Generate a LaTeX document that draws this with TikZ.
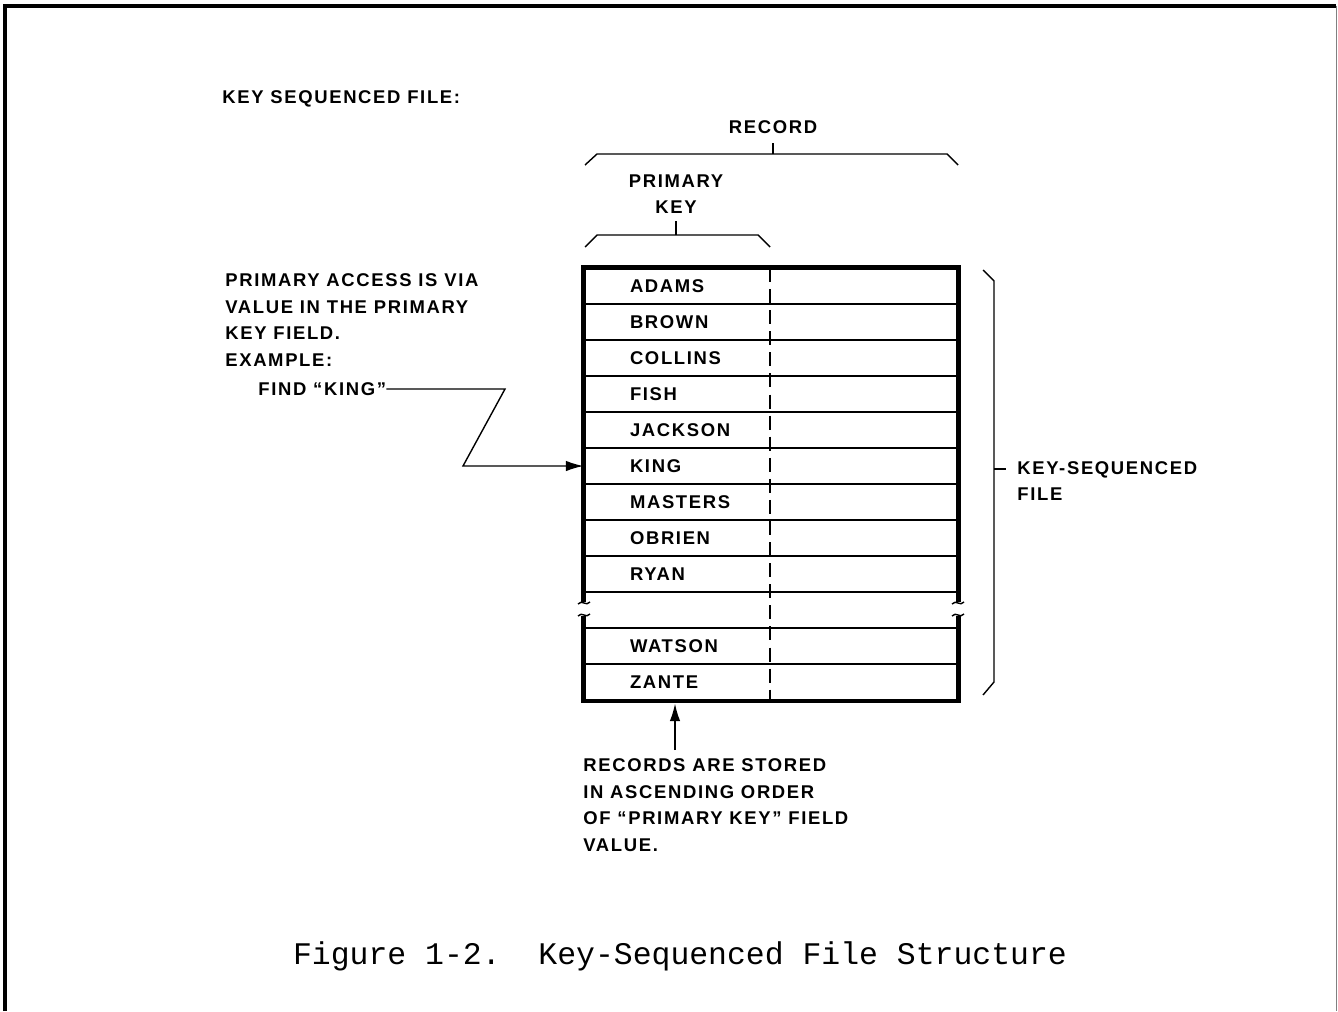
\documentclass[tikz,border=0pt]{standalone}
\usepackage{fontspec}
\newfontfamily\lblfont[LetterSpace=9]{Liberation Sans}
\newfontfamily\capfont{Liberation Mono}
\usetikzlibrary{calc,arrows.meta}
\tikzset{
  lbl/.style={font=\lblfont\bfseries\fontsize{10.5}{15.1}\selectfont, inner sep=0pt},
  cell/.style={lbl, draw, line width=0.7pt, minimum height=0.72cm, inner xsep=0.92cm, text width=5.64cm, align=left},
  border/.style={line width=2.4pt},
  brace/.style={line width=0.8pt},
  conn/.style={line width=0.8pt, -{Latex[length=10pt,width=6pt]}}
}
\begin{document}
\begin{tikzpicture}[x=0.02cm,y=-0.02cm]
        \useasboundingbox (0,0) rectangle (1338,1011);
        \draw[line width=1.8pt] (5,1011) -- (5,6) -- (1336,6);
        \draw[line width=0.5pt,gray] (1336,6) -- (1336,1011);

        \node[lbl,anchor=west] (title) at (222,99) {KEY SEQUENCED FILE:};

        \node[lbl] (record) at (773,127) {RECORD};
        \draw[brace] (585,165) -- (597,154) -- (947,154) -- (958,165);
        \draw[brace] (773,154) -- (773,143);

        \node[lbl,align=center] (pkey) at (676,194) {PRIMARY\\KEY};
        \draw[brace] (585,247) -- (597,235) -- (758,235) -- (770,247);
        \draw[brace] (676,235) -- (676,221);

        \node[cell] (adams) at (771,286) {ADAMS};
        \node[cell] (brown) at (771,322) {BROWN};
        \node[cell] (collins) at (771,358) {COLLINS};
        \node[cell] (fish) at (771,394) {FISH};
        \node[cell] (jackson) at (771,430) {JACKSON};
        \node[cell] (king) at (771,466) {KING};
        \node[cell] (masters) at (771,502) {MASTERS};
        \node[cell] (obrien) at (771,538) {OBRIEN};
        \node[cell] (ryan) at (771,574) {RYAN};
        \node[cell] (watson) at (771,646) {WATSON};
        \node[cell] (zante) at (771,682) {ZANTE};

        \draw[line width=0.8pt,dash pattern=on 8pt off 4pt] (770,268) -- (770,700);

        \draw[border] ($(ryan.south west)+(0,9)$) -- (adams.north west) -- (adams.north east) -- ($(ryan.south east)+(0,9)$);
        \draw[border] ($(watson.north west)+(0,-11)$) -- (zante.south west) -- (zante.south east) -- ($(watson.north east)+(0,-11)$);
        \draw[brace] (578,604) .. controls (582,599) and (586,607) .. (590,602);
        \draw[brace] (578,616) .. controls (582,611) and (586,619) .. (590,614);
        \draw[brace] (952,604) .. controls (956,599) and (960,607) .. (964,602);
        \draw[brace] (952,616) .. controls (956,611) and (960,619) .. (964,614);

        \node[lbl,anchor=west,align=left] (access) at (225,320) {PRIMARY ACCESS IS VIA\\VALUE IN THE PRIMARY\\KEY FIELD.\\EXAMPLE:};
        \node[lbl,anchor=west] (find) at (258,389) {FIND “KING”};
        \coordinate (zig1) at (find.east -| 505,0);
        \coordinate (zig2) at (king.west -| 463,0);
        \draw[conn] (find.east) -- (zig1) -- (zig2) -- (king.west);

        \draw[brace] (983,270) -- (994,281) -- (994,682) -- (983,695);
        \draw[brace] (994,469) -- (1006,469);
        \node[lbl,anchor=west,align=left] (ksf) at (1017,481) {KEY-SEQUENCED\\FILE};

        \coordinate (note) at (675,750);
        \draw[conn] (note) -- ($(note |- zante.south)+(0,3)$);
        \node[lbl,anchor=west,align=left] (stored) at (583,805) {RECORDS ARE STORED\\IN ASCENDING ORDER\\OF “PRIMARY KEY” FIELD\\VALUE.};

        \node[font=\capfont\fontsize{17.9}{20}\selectfont,inner sep=0pt] (caption) at (680,956) {Figure 1-2.\ \ Key-Sequenced File Structure};
\end{tikzpicture}
\end{document}
